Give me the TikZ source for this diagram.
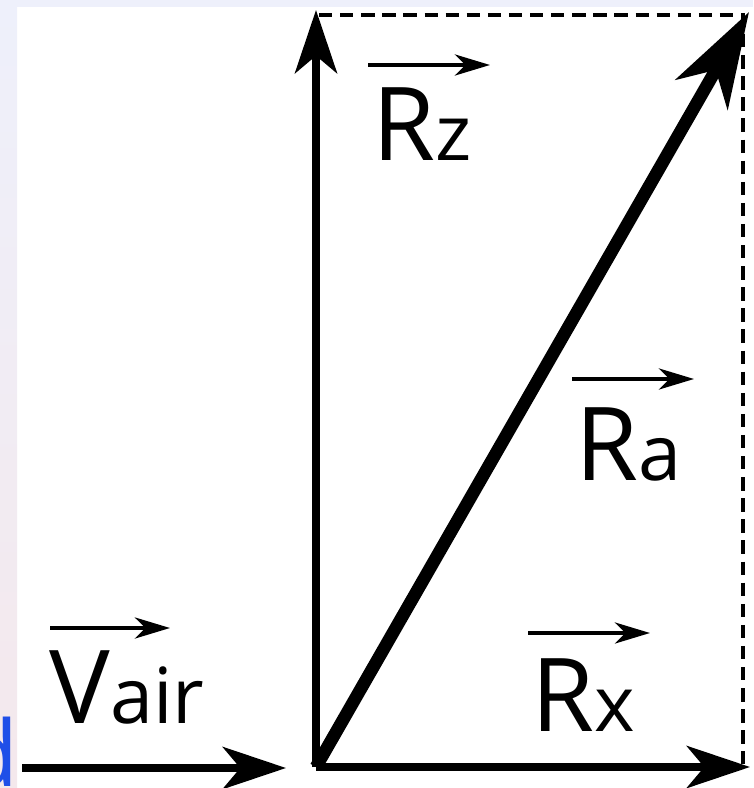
\documentclass[tikz,border=0pt]{standalone}
\usepackage{fontspec}
\setmainfont{Open Sans}
\usetikzlibrary{arrows.meta}
\definecolor{lavender}{HTML}{EEF0FB}
\definecolor{pinkgrey}{HTML}{F4E8EC}
\definecolor{linkblue}{HTML}{1F4FE8}
\newcommand\subsz[1]{{\fontsize{22}{23}\selectfont #1}}

\begin{document}
\begin{tikzpicture}[x=0.01cm, y=-0.01cm]
    \tikzset{
      force/.style={line width=2pt, -{Stealth[length=18pt, width=12pt, inset=5pt]}},
      resultant/.style={line width=3.6pt, -{Stealth[length=27pt, width=17pt, inset=8pt]}},
      guide/.style={line width=1pt, dash pattern=on 3.8pt off 2.2pt},
      vecbar/.style={line width=1.1pt, -{Stealth[length=10pt, width=6pt, inset=3pt]}},
      lab/.style={anchor=base west, inner sep=0pt, font=\fontsize{29}{30}\selectfont},
    }
    \useasboundingbox (0,0) rectangle (753,788);
    \clip (0,0) rectangle (753,788);
    % ===== background strips =====
    \fill[lavender] (0,0) rectangle (753,7);
    \shade[top color=lavender, bottom color=pinkgrey] (0,0) rectangle (17,788);
    \node[anchor=base east, inner sep=0pt, text=linkblue,
          font=\fontsize{26}{26}\selectfont] (cut) at (19,786) {d};
    % ===== corner points =====
    \coordinate (O) at (316,767);
    \coordinate (ztip) at (316,10);
    \coordinate (xtip) at (750,767);
    \coordinate (atip) at (749,12);
    \coordinate (corner) at (743,15);
    \coordinate (vstart) at (22,768);
    \coordinate (vtip) at (286,768);
    % ===== dashed box =====
    \draw[guide] (319,15) -- (corner) -- (743,764);
    % ===== forces =====
    \draw[force] (vstart) -- (vtip);
    \draw[force] (O) -- (ztip);
    \draw[force] (O) -- (xtip);
    \draw[resultant] (O) -- (atip);
    % ===== labels =====
    \node[lab] (vair) at (49,723) {V\subsz{air}};
    \node[lab] (rz) at (372,160) {R\subsz{z}};
    \node[lab] (ra) at (575,480) {R\subsz{a}};
    \node[lab] (rx) at (531,731) {R\subsz{x}};
    \draw[vecbar] ([shift={(1,-95)}]vair.base west) -- ++(120,0);
    \draw[vecbar] ([shift={(-4,-95)}]rz.base west) -- ++(122,0);
    \draw[vecbar] ([shift={(-3,-101)}]ra.base west) -- ++(122,0);
    \draw[vecbar] ([shift={(-3,-98)}]rx.base west) -- ++(122,0);
\end{tikzpicture}
\end{document}
